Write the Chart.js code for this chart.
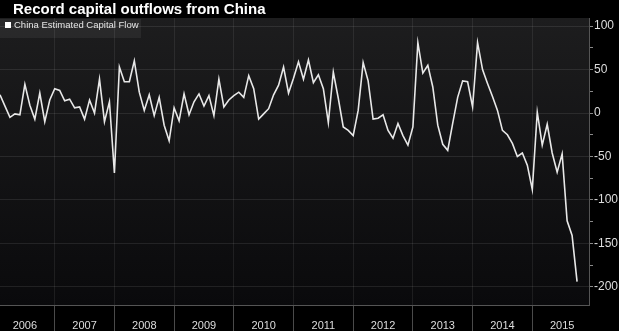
<!DOCTYPE html>
<html>
<head>
<meta charset="utf-8">
<script src="https://cdn.jsdelivr.net/npm/chart.js@4.4.1/dist/chart.umd.min.js"></script>
<style>
  html, body { margin: 0; padding: 0; background: #000; }
  #wrap { position: relative; width: 619px; height: 331px; overflow: hidden; background: #000; }
  #title {
    position: absolute; left: 13px; top: 0; height: 18px; line-height: 18px;
    font: bold 15px "Liberation Sans", Arial, sans-serif; color: #fff; white-space: nowrap;
  }
  #legend {
    position: absolute; left: 0; top: 19px; width: 141px; height: 19px; line-height: 19px;
    background: rgba(255, 255, 255, 0.06);
    font: 9.5px "Liberation Sans", Arial, sans-serif; color: #e6e6e6; white-space: nowrap;
  }
  #legend .box { display: inline-block; width: 6px; height: 6px; background: #fff; margin: 0 3px 0 5px; }
  canvas { position: absolute; left: 0; top: 0; }
</style>
</head>
<body>
<div id="wrap">
  <canvas id="flowChart" width="619" height="331"></canvas>
  <div id="title">Record capital outflows from China</div>
  <div id="legend"><span class="box"></span>China Estimated Capital Flow</div>
</div>
<script>
// Datos mensuales (ene 2006 - sep 2015)
const seriesName = "China Estimated Capital Flow";
const startYear = 2006;
const yearLabels = ["2006", "2007", "2008", "2009", "2010", "2011", "2012", "2013", "2014", "2015"];
const capitalFlow = [
  21, 8, -5, -1, -2, 33, 9, -7, 23, -10, 15, 28,      // 2006
  26, 14, 16, 6, 7, -7, 15, 0, 39, -10, 13, -69,      // 2007
  53, 36, 36, 60, 24, 3, 21, -3, 18, -14, -32, 6,     // 2008
  -9, 22, -2, 13, 22, 8, 20, -3, 39, 7, 15, 20,       // 2009
  24, 18, 43, 28, -7, -1, 5, 21, 32, 53, 23, 40,      // 2010
  59, 39, 61, 35, 44, 28, -11, 47, 17, -16, -20, -26, // 2011
  3, 58, 37, -7, -6, -2, -20, -29, -12, -26, -37, -16, // 2012
  81, 46, 55, 30, -14, -36, -43, -12, 18, 37, 36, 7,  // 2013
  81, 50, 34, 19, 3, -20, -25, -35, -50, -46, -60, -88, // 2014
  1, -37, -13, -46, -68, -47, -124, -141, -194        // 2015
];
const yTickValues = [-200, -175, -150, -125, -100, -75, -50, -25, 0, 25, 50, 75, 100];

// Puntos: mes n (fin de mes) desde enero de 2006
const points = capitalFlow.map((v, i) => ({ x: i + 1, y: v }));

// Ticks del eje x: límites de año y mitad de año (para la etiqueta)
const xTickValues = [];
yearLabels.forEach((y, i) => {
  xTickValues.push(i * 12 + 6);
  if (i < yearLabels.length - 1) xTickValues.push((i + 1) * 12);
});

// Fondo degradado del área del gráfico
const plotBackground = {
  id: "plotBackground",
  beforeDraw(chart) {
    const { ctx, chartArea } = chart;
    const g = ctx.createLinearGradient(0, chartArea.top, 0, chartArea.bottom);
    g.addColorStop(0, "#1d1d1e");
    g.addColorStop(1, "#0a0a0c");
    ctx.save();
    ctx.fillStyle = g;
    ctx.fillRect(chartArea.left, chartArea.top, chartArea.right - chartArea.left, chartArea.bottom - chartArea.top);
    ctx.restore();
  },
};

const font = "'Liberation Sans', Arial, sans-serif";

new Chart(document.getElementById("flowChart"), {
  type: "line",
  data: {
    datasets: [
      {
        label: seriesName,
        data: points,
        borderColor: "#e8e8e8",
        borderWidth: 1.6,
        pointRadius: 0,
        tension: 0,
      },
    ],
  },
  options: {
    responsive: false,
    animation: false,
    layout: { padding: { top: 18, left: 0, right: 0, bottom: 0 } },
    plugins: {
      legend: { display: false },
      tooltip: { enabled: false },
    },
    scales: {
      x: {
        type: "linear",
        min: 1,
        max: 119.4,
        afterBuildTicks: (scale) => {
          scale.ticks = xTickValues.map((v) => ({ value: v }));
        },
        afterFit: (scale) => {
          scale.height = 26;
        },
        grid: {
          color: (c) => (c.tick && c.tick.value % 12 === 0 ? "rgba(255,255,255,0.08)" : "transparent"),
          tickColor: (c) => (c.tick && c.tick.value % 12 === 0 ? "#4a4a4a" : "transparent"),
          tickLength: 26,
        },
        border: { display: true, color: "#555" },
        ticks: {
          autoSkip: false,
          maxRotation: 0,
          padding: -12,
          color: "#dddddd",
          font: { family: font, size: 11 },
          callback: (v) => (v % 12 === 6 ? String(startYear + (v - 6) / 12) : ""),
        },
      },
      y: {
        position: "right",
        min: -221,
        max: 109.4,
        afterBuildTicks: (scale) => {
          scale.ticks = yTickValues.map((v) => ({ value: v }));
        },
        afterFit: (scale) => {
          scale.width = 30;
        },
        grid: {
          color: (c) => (c.tick && c.tick.value % 50 === 0 ? "rgba(255,255,255,0.09)" : "transparent"),
          tickColor: "#8a8a8a",
          tickLength: 4,
        },
        border: { display: true, color: "#555" },
        ticks: {
          padding: 1,
          color: "#dddddd",
          font: { family: font, size: 12 },
          callback: (v) => (v % 50 === 0 ? String(v) : ""),
        },
      },
    },
  },
  plugins: [plotBackground],
});
</script>
</body>
</html>
